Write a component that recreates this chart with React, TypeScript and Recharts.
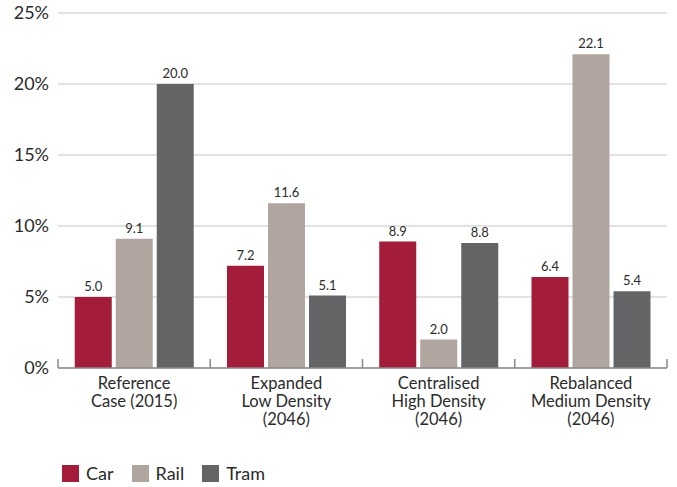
import React from "react";
import {
  BarChart, Bar, XAxis, YAxis, CartesianGrid, LabelList,
} from "recharts";

const scenarios = [
  ["Reference", "Case (2015)"],
  ["Expanded", "Low Density", "(2046)"],
  ["Centralised", "High Density", "(2046)"],
  ["Rebalanced", "Medium Density", "(2046)"],
];
const car = [5.0, 7.2, 8.9, 6.4];
const rail = [9.1, 11.6, 2.0, 22.1];
const tram = [20.0, 5.1, 8.8, 5.4];
const yTicks = [0, 5, 10, 15, 20, 25];

const series = [
  { key: "car", name: "Car", color: "#a31d3a" },
  { key: "rail", name: "Rail", color: "#b0a59f" },
  { key: "tram", name: "Tram", color: "#646466" },
];

const data = scenarios.map((lines, i) => ({
  name: lines.join(" "),
  lines,
  car: car[i],
  rail: rail[i],
  tram: tram[i],
}));

const FONT = "Lato, 'Open Sans', sans-serif";
const TEXT = "#2b2b2b";

// multi-line category label plus the upward boundary ticks between groups
function CategoryTick(props: any) {
  const { x, y, payload, index, width } = props;
  const step = width / scenarios.length;
  const lines = scenarios[payload.index ?? index];
  const axisY = y - 8;
  return (
    <g>
      <line x1={x - step / 2} x2={x - step / 2} y1={axisY - 9} y2={axisY} stroke="#8a8a8a" strokeWidth={1.5} />
      {index === scenarios.length - 1 && (
        <line x1={x + step / 2} x2={x + step / 2} y1={axisY - 9} y2={axisY} stroke="#8a8a8a" strokeWidth={1.5} />
      )}
      <text x={x} y={axisY + 21} textAnchor="middle" fill={TEXT} fontSize={16.5} fontFamily={FONT}>
        {lines.map((l: string, k: number) => (
          <tspan key={k} x={x} dy={k === 0 ? 0 : 18}>{l}</tspan>
        ))}
      </text>
    </g>
  );
}

export default function App() {
  return (
    <div style={{ position: "absolute", left: 0, top: 0, width: 677, height: 487, background: "#fff" }}>
      <BarChart
        width={677}
        height={487}
        data={data}
        margin={{ top: 13, right: 10, left: 0, bottom: 49 }}
        barGap={4}
        barCategoryGap="11%"
      >
        <CartesianGrid vertical={false} stroke="#d9d9d9" strokeWidth={1.5} />
        <YAxis
          domain={[0, 25]}
          ticks={yTicks}
          tickFormatter={(v: number) => `${v}%`}
          width={58}
          axisLine={false}
          tickLine={false}
          tickMargin={3}
          tick={{ fill: TEXT, fontSize: 18, fontFamily: FONT }}
        />
        <XAxis
          dataKey="name"
          height={70}
          axisLine={{ stroke: "#8a8a8a", strokeWidth: 1.5 }}
          tickLine={false}
          interval={0}
          tick={<CategoryTick />}
        />
        {series.map((s) => (
          <Bar key={s.key} dataKey={s.key} name={s.name} fill={s.color} isAnimationActive={false}>
            <LabelList
              dataKey={s.key}
              position="top"
              offset={6}
              formatter={(v: number) => v.toFixed(1)}
              style={{ fill: TEXT, fontSize: 13, fontFamily: FONT }}
            />
          </Bar>
        ))}
      </BarChart>
      <div style={{ position: "absolute", left: 62, top: 462, display: "flex", alignItems: "center", fontFamily: FONT, fontSize: 18, color: TEXT }}>
        {series.map((s) => (
          <div key={s.key} style={{ display: "flex", alignItems: "center", marginRight: 18 }}>
            <span style={{ width: 17, height: 17, background: s.color, display: "inline-block", marginRight: 7 }} />
            <span>{s.name}</span>
          </div>
        ))}
      </div>
    </div>
  );
}
